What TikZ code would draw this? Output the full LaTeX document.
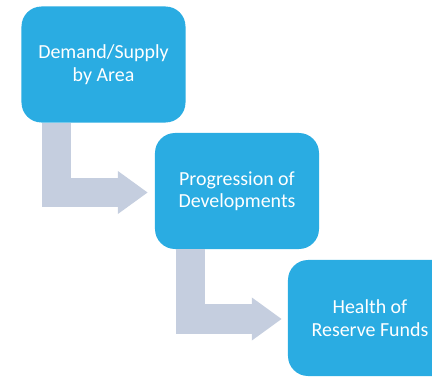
\documentclass[tikz,border=0pt]{standalone}
\usepackage{fontspec}
\setmainfont{Carlito}
\usetikzlibrary{arrows.meta,positioning}
\definecolor{boxblue}{HTML}{2AACE2}
\definecolor{arrowgray}{HTML}{C5CEDF}

\begin{document}
\begin{tikzpicture}[x=1bp,y=1bp,
  stage/.style={fill=boxblue, rounded corners=20bp, minimum width=164bp, minimum height=116bp, inner sep=0pt, align=center, text=white, font=\fontsize{20}{22.5}\selectfont},
  bendarrow/.style={draw=arrowgray, line width=29bp, line join=miter, -{Triangle[length=30bp,width=41bp]}}]
  \useasboundingbox (0,0) rectangle (432,377);
  \clip (0,0) rectangle (432,377);

  % Stages
  \node[stage] (area) at (103.5,312.5) {Demand/Supply\\by Area};
  \node[stage] (devel) at (237,186) {Progression of\\Developments};
  \node[stage] (funds) at (370,59) {Health of\\Reserve Funds};

  % Bent arrows
  \draw[bendarrow] ([xshift=35.5bp]area.south west) |- ([xshift=-7bp,yshift=-1.5bp]devel.west);
  \draw[bendarrow] ([xshift=36bp]devel.south west) |- ([xshift=-6bp,yshift=-1bp]funds.west);
\end{tikzpicture}
\end{document}
